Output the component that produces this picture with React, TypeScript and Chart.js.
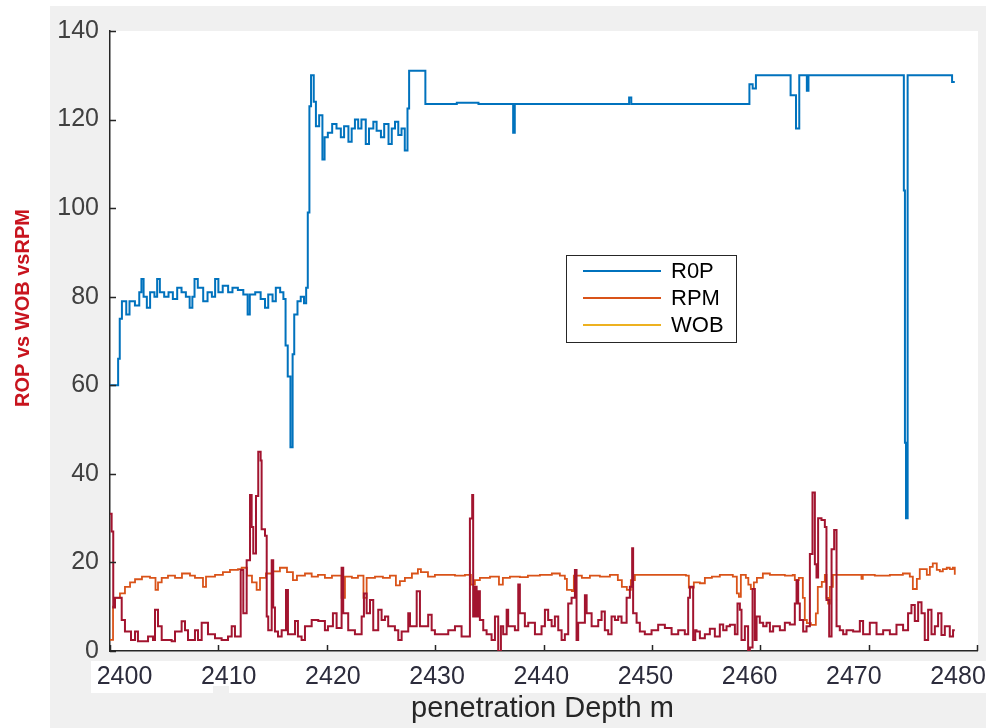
import React, { useEffect, useRef } from "react";
import { Chart, registerables } from "chart.js";

Chart.register(...registerables);

// ---------------- data ----------------
const seriesNames = ["R0P", "RPM", "WOB"];
const legendColors = ["#0072BD", "#D95319", "#EDB120"];
const lineColors = ["#0072BD", "#D95319", "#A2142F"];

const yTickValues = [0, 20, 40, 60, 80, 100, 120, 140];
const xTickLabels = ["2400", "2410", "2420", "2430", "2440", "2450", "2460", "2470", "2480"];

const ropDepth = [
  2400.0, 2400.75, 2400.9, 2401.1, 2401.5, 2401.8, 2402.3, 2402.7, 2402.9, 2403.1, 2403.4, 2403.7,
  2404.1, 2404.35, 2404.6, 2405.0, 2405.4, 2405.8, 2406.2, 2406.6, 2407.0, 2407.35, 2407.6, 2407.8,
  2408.1, 2408.6, 2409.0, 2409.4, 2409.7, 2410.0, 2410.4, 2410.9, 2411.3, 2411.8, 2412.3, 2412.7,
  2412.9, 2413.4, 2413.9, 2414.3, 2414.6, 2415.0, 2415.3, 2415.7, 2416.0, 2416.2, 2416.4, 2416.65,
  2416.85, 2417.0, 2417.3, 2417.6, 2417.9, 2418.1, 2418.25, 2418.4, 2418.55, 2418.8, 2419.0, 2419.3,
  2419.6, 2419.8, 2420.1, 2420.5, 2420.9, 2421.3, 2421.6, 2422.0, 2422.3, 2422.6, 2422.9, 2423.2,
  2423.6, 2423.9, 2424.3, 2424.6, 2425.0, 2425.3, 2425.7, 2426.0, 2426.3, 2426.6, 2426.9, 2427.2,
  2427.45, 2427.6, 2429.1, 2432.0, 2434.0, 2437.2, 2437.35, 2447.9, 2448.1, 2459.0, 2459.3, 2459.6,
  2462.8, 2463.3, 2463.6, 2464.3, 2464.45, 2473.25, 2473.35, 2473.45, 2473.6, 2477.7, 2477.95,
];
const ropValue = [
  60, 66, 75, 79, 76, 79, 78, 81, 84, 80, 77.5, 81,
  80, 84, 81, 80, 81, 79.5, 82, 81, 80, 77.5, 80, 84,
  82, 79, 81, 80, 84, 81, 82.5, 81, 82, 81.5, 80.5, 76,
  80.5, 81, 79.5, 77.5, 80.5, 79, 82, 81, 79.5, 69, 62, 46,
  67, 76, 79, 80, 78.5, 82, 99, 123, 130, 124, 118.5, 121,
  111, 116, 117, 119, 118, 116, 118.5, 115, 118, 120, 118, 120,
  114.5, 118, 119.5, 117.5, 116, 119, 114.5, 118, 119.5, 116.5, 118, 113,
  122.5, 131, 123.5, 123.8, 123.5, 117, 123.5, 125, 123.5, 128, 127, 130,
  125.5, 118, 130, 126.5, 130, 104, 47, 30, 130, 128.5, 128.5,
];

const rpmDepth = [
  2400.0, 2400.28, 2400.46, 2400.92, 2401.38, 2401.85, 2402.31, 2402.95, 2403.69, 2404.2, 2404.43, 2404.77,
  2405.35, 2406.0, 2406.64, 2407.38, 2407.84, 2408.58, 2408.86, 2409.69, 2410.42, 2411.07, 2411.81, 2412.15,
  2412.64, 2413.1, 2413.53, 2413.84, 2414.39, 2414.94, 2415.68, 2416.33, 2416.88, 2417.25, 2417.99, 2418.61,
  2419.19, 2419.83, 2420.48, 2421.37, 2421.68, 2422.32, 2422.88, 2423.39, 2423.68, 2424.45, 2425.18, 2425.83,
  2426.38, 2426.75, 2427.21, 2427.86, 2428.41, 2428.69, 2429.34, 2429.98, 2430.9, 2431.83, 2432.75, 2433.3,
  2433.67, 2434.13, 2435.06, 2435.89, 2436.25, 2436.9, 2437.82, 2438.56, 2439.67, 2440.77, 2441.51, 2441.97,
  2442.16, 2442.62, 2442.8, 2443.54, 2444.28, 2445.2, 2446.13, 2446.86, 2447.23, 2447.69, 2448.06, 2448.43,
  2453.14, 2453.41, 2453.87, 2454.43, 2454.89, 2455.54, 2456.27, 2457.47, 2457.84, 2458.03, 2458.21, 2458.67,
  2458.9, 2459.13, 2459.41, 2459.69, 2460.24, 2460.89, 2462.27, 2463.0, 2463.19, 2463.56, 2463.93, 2464.11,
  2464.3, 2464.67, 2465.13, 2465.31, 2465.68, 2465.96, 2466.11, 2466.26, 2466.42, 2466.7, 2469.19, 2469.34,
  2469.46, 2470.57, 2471.96, 2473.16, 2473.8, 2474.08, 2474.45, 2474.72, 2475.37, 2475.65, 2475.92, 2476.29,
  2476.57, 2476.85, 2477.21, 2477.49, 2477.77, 2477.95,
];
const rpmValue = [
  2.5, 10, 12, 13, 14.5, 15.5, 16.2, 16.8, 16.5, 13.8, 15.5, 16.5,
  17, 16.5, 17.5, 17, 16.5, 14.5, 16.8, 17.2, 17.8, 18.3, 18.5, 18.8,
  17, 15.5, 13.8, 16.5, 17.5, 18, 18.8, 17.8, 16, 17, 17.5, 16.8,
  17.2, 16.5, 17, 12, 16.8, 16.5, 17, 12, 16.5, 16.8, 16.5, 17,
  14.8, 15.8, 16.5, 17.5, 18.5, 17.8, 16.8, 17.2, 17.2, 17, 17.2, 15,
  16, 16.5, 16.8, 15, 16.5, 16.8, 16.7, 17, 17.2, 17.5, 17, 16.3,
  13.8, 13.5, 17, 16.5, 17, 16.8, 17.2, 16, 14.5, 13.8, 16, 17.2,
  17, 14.3, 15.5, 15.3, 16.5, 16.8, 17.2, 16.8, 13, 12.2, 17.2, 16.5,
  15, 14, 15.5, 16.5, 17.5, 17.2, 17, 17.2, 16, 16.5, 12, 7,
  6.3, 5.9, 8.5, 14.5, 15.6, 17.2, 12, 10.7, 14.5, 17.2, 17.2, 16.3,
  17.2, 17, 17.2, 17.5, 16.8, 14, 16.3, 18.5, 17.2, 19, 19.8, 18.3,
  18, 18.5, 18.8, 18.5, 18.8, 17.2,
];

const wobDepth = [
  2400.0, 2400.15, 2400.3, 2400.46, 2401.08, 2401.38, 2401.94, 2402.31, 2402.58, 2403.51, 2403.97, 2404.15,
  2404.43, 2404.77, 2405.69, 2406.0, 2406.61, 2406.92, 2407.2, 2407.84, 2408.12, 2408.46, 2409.04, 2409.69,
  2410.3, 2410.89, 2411.23, 2411.53, 2412.06, 2412.3, 2412.61, 2412.92, 2413.07, 2413.22, 2413.47, 2413.68,
  2413.9, 2413.99, 2414.3, 2414.46, 2414.6, 2414.92, 2415.06, 2415.22, 2415.5, 2415.84, 2416.24, 2416.42,
  2417.07, 2417.34, 2417.68, 2417.99, 2418.61, 2419.22, 2419.83, 2420.11, 2420.57, 2420.91, 2421.37, 2421.52,
  2421.98, 2422.6, 2423.22, 2423.43, 2423.68, 2423.99, 2424.29, 2424.75, 2425.06, 2425.37, 2425.67, 2426.29,
  2426.6, 2426.91, 2427.52, 2427.68, 2428.3, 2428.6, 2429.36, 2429.68, 2429.98, 2431.21, 2431.83, 2432.44,
  2433.21, 2433.42, 2433.51, 2433.67, 2433.83, 2433.98, 2434.13, 2434.44, 2434.75, 2435.21, 2435.52, 2435.82,
  2436.07, 2436.28, 2436.6, 2436.74, 2437.36, 2437.67, 2437.82, 2438.28, 2438.59, 2439.21, 2439.82, 2440.13,
  2440.43, 2440.75, 2441.05, 2441.36, 2441.67, 2441.97, 2442.28, 2442.59, 2442.9, 2443.05, 2443.2, 2443.82,
  2443.98, 2444.44, 2445.05, 2445.36, 2445.66, 2445.97, 2446.28, 2446.59, 2446.89, 2447.2, 2447.67, 2447.97,
  2448.18, 2448.27, 2448.59, 2448.89, 2449.35, 2449.97, 2450.58, 2451.2, 2451.82, 2452.43, 2453.04, 2453.35,
  2453.51, 2453.81, 2454.0, 2454.12, 2454.43, 2454.89, 2455.35, 2455.81, 2456.27, 2456.58, 2456.89, 2457.2,
  2457.66, 2457.9, 2458.12, 2458.27, 2458.58, 2458.88, 2459.04, 2459.29, 2459.5, 2459.66, 2459.96, 2460.27,
  2460.58, 2460.89, 2461.19, 2461.81, 2462.27, 2462.73, 2463.19, 2463.35, 2463.5, 2463.65, 2463.96, 2464.27,
  2464.58, 2464.82, 2465.04, 2465.19, 2465.34, 2465.65, 2465.96, 2466.11, 2466.36, 2466.58, 2466.82, 2467.04,
  2467.34, 2467.65, 2467.96, 2468.57, 2469.19, 2469.49, 2470.11, 2470.73, 2471.34, 2471.96, 2472.57, 2473.18,
  2473.64, 2473.95, 2474.26, 2474.57, 2474.88, 2475.18, 2475.49, 2475.8, 2476.11, 2476.41, 2476.72, 2477.03,
  2477.49, 2477.79, 2477.95,
];
const wobValue = [
  31, 27, 9.8, 12, 7, 4.4, 2.5, 4.4, 2.2, 3.3, 2.5, 9.3,
  5.6, 2.5, 2.2, 4.4, 6.7, 4.7, 2.5, 4.7, 2.5, 6.4, 3.8, 2.9,
  2.5, 3.3, 5.6, 3.3, 18.3, 8.5, 20.5, 35.2, 28, 22, 35, 45,
  43, 27.5, 26, 7.8, 4.7, 20.5, 9.8, 4.4, 3.3, 4.7, 13.8, 3.8,
  6.8, 3.3, 2.5, 5.6, 7, 6.8, 4.7, 5.6, 8.5, 5.2, 18.8, 8.5,
  4.7, 3.8, 7.8, 13, 8.5, 11.5, 4.7, 9.3, 7, 7.8, 5.6, 4.7,
  2.5, 4.4, 8.5, 5.6, 13.5, 5.6, 8.2, 4.7, 3.8, 4.7, 5.6, 3.3,
  29.9, 35.2, 7.8, 14.5, 7.8, 13.5, 7, 4.7, 3.8, 2.5, 7.8, 0,
  5.6, 3.8, 9.3, 5.6, 4.7, 15, 8.5, 5.6, 6.4, 3.8, 5.6, 9.3,
  7, 5.6, 7.8, 4.7, 2.5, 3.8, 10.7, 12, 18.3, 2.5, 6.4, 12.6,
  8.5, 5.6, 7, 8.9, 4.7, 3.8, 7.8, 7, 7.8, 6.4, 12, 14.5,
  23.2, 8.5, 6.4, 4.4, 3.8, 4.7, 5.9, 5.2, 3.8, 4.7, 3.8, 12,
  14.5, 2.5, 4.7, 4.4, 2.9, 3.8, 5, 3.3, 6, 4.7, 5.6, 5.9,
  3.8, 10.7, 9.3, 2.5, 5.6, 0, 0.8, 14, 2.5, 7.8, 6.4, 5.6,
  6.4, 4.4, 5.6, 4.7, 6.4, 6, 10.7, 16, 10.7, 7, 4.4, 5.6,
  21.9, 35.8, 19.6, 16.6, 30, 29.6, 28, 11.5, 3.3, 23, 27.3, 5.6,
  4.7, 3.8, 4.7, 4.4, 6.8, 3.8, 6.4, 3.8, 4.7, 3.8, 5.9, 4.7,
  8.5, 10.4, 6.8, 11, 8.5, 2.5, 9.3, 3.8, 5.6, 8.5, 3.6, 5.6,
  3.3, 4.7, 4.7,
];

const xTitle = "penetration Depth m";
const yTitle = "ROP vs WOB vsRPM";

// ---------------- helpers ----------------
const FONT = "'Liberation Sans', Arial, Helvetica, sans-serif";
const toPoints = (xs: number[], ys: number[]) => xs.map((x, i) => ({ x, y: ys[i] }));

const figurePlugin = {
  id: "matlabFigure",
  beforeDraw(chart: any) {
    const { ctx, chartArea: a, width, height } = chart;
    ctx.save();
    ctx.fillStyle = "#ffffff";
    ctx.fillRect(0, 0, width, height);
    ctx.fillStyle = "#f0f0f0";
    ctx.fillRect(50, 6, width - 50, height - 6);
    ctx.fillStyle = "#ffffff";
    ctx.fillRect(a.left, a.top, a.right - a.left + 1, a.bottom - a.top);
    // pasted tick-label strip
    ctx.fillRect(91, 661, width - 91, 32);
    ctx.fillStyle = "#f0f0f0";
    ctx.fillRect(213, 686, 16, 7);
    ctx.restore();
  },
  afterDraw(chart: any) {
    const { ctx, chartArea: a } = chart;
    const xs = chart.scales.x;
    const ys = chart.scales.y;
    ctx.save();
    // inward tick marks
    ctx.strokeStyle = "#262626";
    ctx.lineWidth = 1.5;
    ctx.beginPath();
    ys.ticks.forEach((t: any) => {
      const y = Math.round(ys.getPixelForValue(t.value)) + 0.5;
      ctx.moveTo(a.left, y);
      ctx.lineTo(a.left + 6, y);
    });
    xs.ticks.forEach((t: any) => {
      const x = Math.round(xs.getPixelForValue(t.value)) + 0.5;
      ctx.moveTo(x, a.bottom);
      ctx.lineTo(x, a.bottom - 6);
    });
    ctx.stroke();

    // x tick labels (slightly rescaled strip, as in the reference)
    ctx.fillStyle = "#2c2c3c";
    ctx.font = `25px ${FONT}`;
    ctx.textAlign = "center";
    ctx.textBaseline = "middle";
    const l0 = 124.5;
    const l1 = 958;
    xTickLabels.forEach((lab, i) => {
      const x = l0 + ((l1 - l0) * i) / (xTickLabels.length - 1);
      ctx.fillText(lab, x, 677);
    });

    // x title
    ctx.fillStyle = "#262626";
    ctx.font = `29px ${FONT}`;
    ctx.fillText(xTitle, (a.left + a.right) / 2 - 1, 709);

    // y title
    ctx.save();
    ctx.translate(23, 308);
    ctx.rotate(-Math.PI / 2);
    ctx.fillStyle = "#c8141e";
    ctx.font = `bold 20px ${FONT}`;
    ctx.fillText(yTitle, 0, 0);
    ctx.restore();

    // legend box
    const bx = 566, by = 255, bw = 170, bh = 87;
    ctx.fillStyle = "#ffffff";
    ctx.fillRect(bx, by, bw, bh);
    ctx.strokeStyle = "#262626";
    ctx.lineWidth = 1;
    ctx.strokeRect(bx + 0.5, by + 0.5, bw, bh);
    ctx.font = `22px ${FONT}`;
    ctx.textAlign = "left";
    seriesNames.forEach((name, i) => {
      const y = 271 + i * 27;
      ctx.strokeStyle = legendColors[i];
      ctx.lineWidth = 2;
      ctx.beginPath();
      ctx.moveTo(583, y);
      ctx.lineTo(661, y);
      ctx.stroke();
      ctx.fillStyle = "#000000";
      ctx.fillText(name, 671, y + 1);
    });
    ctx.restore();
  },
};

export default function App() {
  const ref = useRef<HTMLCanvasElement | null>(null);

  useEffect(() => {
    document.body.style.margin = "0";
    const canvas = ref.current;
    if (!canvas) return;
    const chart = new Chart(canvas, {
      type: "line",
      data: {
        datasets: [
          {
            label: seriesNames[0],
            data: toPoints(ropDepth, ropValue),
            borderColor: lineColors[0],
            borderWidth: 2,
            pointRadius: 0,
            stepped: true,
            order: 2,
          },
          {
            label: seriesNames[1],
            data: toPoints(rpmDepth, rpmValue),
            borderColor: lineColors[1],
            borderWidth: 1.8,
            pointRadius: 0,
            stepped: true,
            order: 1,
          },
          {
            label: seriesNames[2],
            data: toPoints(wobDepth, wobValue),
            borderColor: lineColors[2],
            borderWidth: 2,
            pointRadius: 0,
            stepped: true,
            order: 0,
          },
        ],
      },
      options: {
        responsive: false,
        animation: false,
        devicePixelRatio: 1,
        layout: { padding: { left: 0, top: 31, right: 9, bottom: 0 } },
        plugins: { legend: { display: false }, tooltip: { enabled: false } },
        scales: {
          x: {
            type: "linear",
            min: 2400,
            max: 2480,
            ticks: { stepSize: 10, display: false },
            grid: { display: true, drawOnChartArea: false, drawTicks: false },
            border: { display: true, color: "#262626", width: 1.5 },
            afterFit: (s: any) => {
              s.height = 77;
            },
          },
          y: {
            type: "linear",
            min: 0,
            max: 140,
            afterBuildTicks: (s: any) => {
              s.ticks = yTickValues.map((v) => ({ value: v }));
            },
            ticks: {
              padding: 11,
              color: "#404040",
              font: { family: FONT, size: 25 },
            },
            grid: { display: true, drawOnChartArea: false, drawTicks: false },
            border: { display: true, color: "#262626", width: 1.5 },
            afterFit: (s: any) => {
              s.width = 110;
            },
          },
        },
      },
      plugins: [figurePlugin],
    });
    return () => chart.destroy();
  }, []);

  return (
    <div style={{ width: 986, height: 728 }}>
      <canvas ref={ref} width={986} height={728} style={{ display: "block" }} />
    </div>
  );
}
